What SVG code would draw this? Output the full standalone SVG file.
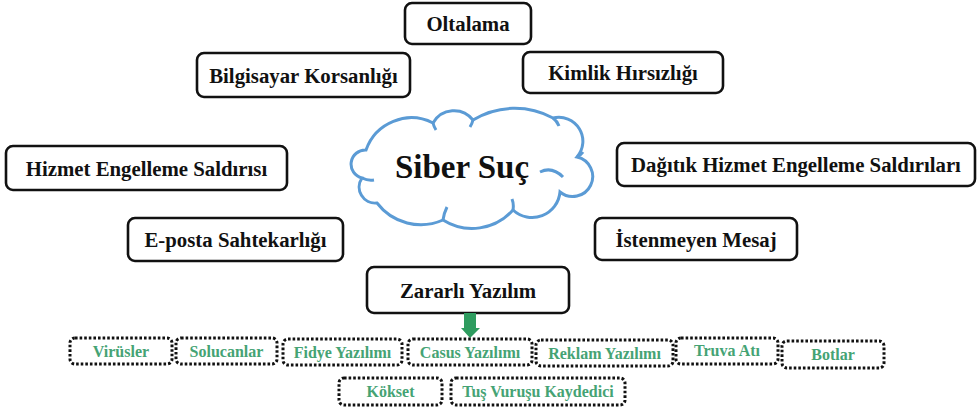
<svg xmlns="http://www.w3.org/2000/svg" width="979" height="409" viewBox="0 0 979 409">
<style>
.box{fill:#fff;stroke:#111;stroke-width:2.6}
.lbl{font-family:"Liberation Serif","Times New Roman",serif;font-weight:bold;font-size:20.8px;fill:#111;text-anchor:middle;dominant-baseline:central}
.sub{fill:#fff;stroke:#111;stroke-width:3;stroke-dasharray:2.6 2}
.slbl{font-family:"Liberation Serif","Times New Roman",serif;font-weight:bold;font-size:16px;fill:#45a374;text-anchor:middle;dominant-baseline:central}
.cloud{fill:#fff;stroke:#5b9bd5;stroke-width:3}
.hook{fill:none;stroke:#5b9bd5;stroke-width:3}
</style>
<rect width="979" height="409" fill="#fff"/>
<g id="cloud">
<path class="cloud" d="M366 150 A48 48 0 0 1 433 123 A24 24 0 0 1 473 120 A80 80 0 0 1 553 118 A24 24 0 0 1 577 157 A20 20 0 1 1 560 192 A28 28 0 0 1 513 210 A54.6 54.6 0 0 1 443 220 A55 55 0 0 1 377 203 A16 16 0 0 1 362 178 A14.2 14.2 0 0 1 366 150 Z"/>
<path class="hook" d="M362 178 Q368 181 374 180 M540 172 Q552 166 563 177 M443 220 Q444 213 447 207 M513 210 Q514 204 512 199 M433 123 q1 4 3 7 M473 120 q-1 4 -3 7 M553 118 q4 3 6 8 M577 157 q4 -2 6 -5"/>
<text class="lbl" x="462" y="167" style="font-size:33px">Siber Suç</text>
</g>
<g id="oltalama"><rect class="box" x="405" y="3" width="126" height="41" rx="7"/><text class="lbl" x="468" y="23.5">Oltalama</text></g>
<g id="bilgisayar-korsanligi"><rect class="box" x="197" y="53" width="213" height="44" rx="7"/><text class="lbl" x="303.5" y="75">Bilgisayar Korsanlığı</text></g>
<g id="kimlik-hirsizligi"><rect class="box" x="523" y="52" width="200" height="41" rx="7"/><text class="lbl" x="623" y="72.5">Kimlik Hırsızlığı</text></g>
<g id="hizmet-engelleme"><rect class="box" x="6" y="146" width="281" height="44" rx="7"/><text class="lbl" x="146.5" y="168">Hizmet Engelleme Saldırısı</text></g>
<g id="dagitik-hizmet-engelleme"><rect class="box" x="617" y="143" width="358" height="43" rx="7"/><text class="lbl" x="796" y="164.5">Dağıtık Hizmet Engelleme Saldırıları</text></g>
<g id="e-posta"><rect class="box" x="128" y="218" width="215" height="43" rx="7"/><text class="lbl" x="235.5" y="239.5">E-posta Sahtekarlığı</text></g>
<g id="istenmeyen-mesaj"><rect class="box" x="595" y="218" width="202" height="42" rx="7"/><text class="lbl" x="696" y="239">İstenmeyen Mesaj</text></g>
<g id="zararli-yazilim"><rect class="box" x="367" y="267" width="202" height="46" rx="7"/><text class="lbl" x="468" y="290">Zararlı Yazılım</text></g>
<g id="connectors">
<path d="M464 313 H476 V328 H480 L470 338 L461 328 H464 Z" fill="#2e9c5f"/>
</g>
<g id="virusler"><rect class="sub" x="70" y="338" width="102" height="26" rx="5"/><text class="slbl" x="121" y="351">Virüsler</text></g>
<g id="solucanlar"><rect class="sub" x="176" y="338" width="101" height="26" rx="5"/><text class="slbl" x="226.5" y="351">Solucanlar</text></g>
<g id="fidye"><rect class="sub" x="283" y="339" width="119" height="26" rx="5"/><text class="slbl" x="342.5" y="352">Fidye Yazılımı</text></g>
<g id="casus"><rect class="sub" x="408" y="339" width="124" height="26" rx="5"/><text class="slbl" x="470" y="352">Casus Yazılımı</text></g>
<g id="reklam"><rect class="sub" x="536" y="340" width="137" height="26" rx="5"/><text class="slbl" x="604.5" y="353">Reklam Yazılımı</text></g>
<g id="truva"><rect class="sub" x="676" y="338" width="102" height="26" rx="5"/><text class="slbl" x="727" y="350.5">Truva Atı</text></g>
<g id="botlar"><rect class="sub" x="782" y="341" width="102" height="27" rx="5"/><text class="slbl" x="833" y="354.5">Botlar</text></g>
<g id="kokset"><rect class="sub" x="339" y="378" width="103" height="27" rx="5"/><text class="slbl" x="390.5" y="391.5">Kökset</text></g>
<g id="tus-vurusu"><rect class="sub" x="451" y="378" width="174" height="27" rx="5"/><text class="slbl" x="538" y="391.5">Tuş Vuruşu Kaydedici</text></g>
</svg>
